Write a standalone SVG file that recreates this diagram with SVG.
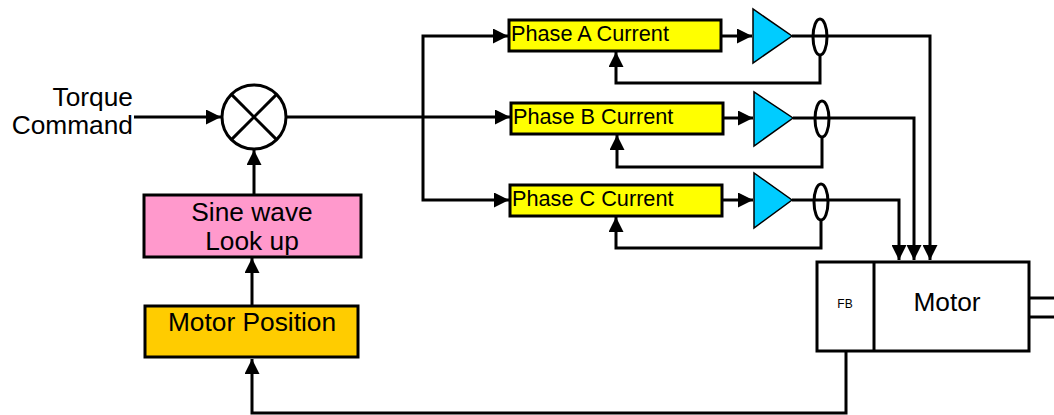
<svg xmlns="http://www.w3.org/2000/svg" width="1054" height="415" viewBox="0 0 1054 415">
<style>
.ln{fill:none;stroke:#000;stroke-width:3}
.bx{stroke:#000;stroke-width:3}
.t{font-family:"Liberation Sans",Arial,sans-serif;fill:#000}
.big{font-size:26.3px}
.ph{font-size:21.7px}
.amp{fill:#00CCFF;stroke:#000;stroke-width:1.5}
.ov{fill:none;stroke:#000;stroke-width:3}
</style>
<defs>
<marker id="arr" markerWidth="5" markerHeight="5" refX="5" refY="2.5" orient="auto" markerUnits="strokeWidth">
<path d="M0,0 L5,2.5 L0,5 Z" fill="#000"/>
</marker>
</defs>
<rect width="1054" height="415" fill="#fff"/>

<g id="connectors">
<line class="ln" x1="134" y1="117" x2="221" y2="117" marker-end="url(#arr)"/>
<line class="ln" x1="286" y1="117" x2="510" y2="117" marker-end="url(#arr)"/>
<polyline class="ln" points="423,117 423,36 508,36" marker-end="url(#arr)"/>
<polyline class="ln" points="423,117 423,200 509,200" marker-end="url(#arr)"/>
<line class="ln" x1="254" y1="195" x2="254" y2="150" marker-end="url(#arr)"/>
<line class="ln" x1="252" y1="306" x2="252" y2="258" marker-end="url(#arr)"/>
<polyline class="ln" points="846,351 846,413 252,413 252,359" marker-end="url(#arr)"/>
<line class="ln" x1="721" y1="36" x2="752" y2="36" marker-end="url(#arr)"/>
<line class="ln" x1="723" y1="118" x2="753" y2="118" marker-end="url(#arr)"/>
<line class="ln" x1="722" y1="200" x2="753" y2="200" marker-end="url(#arr)"/>
<polyline class="ln" points="792,36 930,36 930,260" marker-end="url(#arr)"/>
<polyline class="ln" points="793,118 914,118 914,260" marker-end="url(#arr)"/>
<polyline class="ln" points="792,200 899,200 899,260" marker-end="url(#arr)"/>
<polyline class="ln" points="820,55 820,83 616,83 616,52" marker-end="url(#arr)"/>
<polyline class="ln" points="822,137 822,167 617,167 617,135" marker-end="url(#arr)"/>
<polyline class="ln" points="821,220 821,248 616,248 616,217" marker-end="url(#arr)"/>
<polyline class="ln" points="1029,298 1054,298"/>
<polyline class="ln" points="1029,317 1054,317"/>
</g>

<g id="torque-command">
<text class="t big" x="133" y="106" text-anchor="end">Torque</text>
<text class="t big" x="133" y="134" text-anchor="end">Command</text>
</g>

<g id="junction">
<circle cx="254" cy="117" r="32" fill="#fff" stroke="#000" stroke-width="3"/>
<line class="ln" x1="231.4" y1="94.4" x2="276.6" y2="139.6"/>
<line class="ln" x1="276.6" y1="94.4" x2="231.4" y2="139.6"/>
</g>

<g id="sine-lookup">
<rect class="bx" x="144" y="195" width="217" height="62" fill="#FF99CC"/>
<text class="t big" x="252" y="221" text-anchor="middle">Sine wave</text>
<text class="t big" x="252" y="250" text-anchor="middle">Look up</text>
</g>

<g id="motor-position">
<rect class="bx" x="145" y="306" width="213" height="51" fill="#FFCC00"/>
<text class="t big" x="252" y="331" text-anchor="middle">Motor Position</text>
</g>

<g id="phase-a">
<rect class="bx" x="509" y="20" width="212" height="31" fill="#FFFF00"/>
<text class="t ph" x="511" y="41">Phase A Current</text>
</g>
<g id="phase-b">
<rect class="bx" x="511" y="103" width="212" height="31" fill="#FFFF00"/>
<text class="t ph" x="513" y="124">Phase B Current</text>
</g>
<g id="phase-c">
<rect class="bx" x="510" y="185" width="212" height="31" fill="#FFFF00"/>
<text class="t ph" x="512" y="206">Phase C Current</text>
</g>

<g id="amp-a"><polygon class="amp" points="753,9 753,63 792,36"/></g>
<g id="amp-b"><polygon class="amp" points="754,92 754,146 793,118"/></g>
<g id="amp-c"><polygon class="amp" points="754,173 754,228 792,200"/></g>

<g id="sensor-a"><ellipse class="ov" cx="820" cy="37" rx="7" ry="18"/></g>
<g id="sensor-b"><ellipse class="ov" cx="822" cy="119" rx="7" ry="18"/></g>
<g id="sensor-c"><ellipse class="ov" cx="821" cy="202" rx="7" ry="18"/></g>

<g id="motor">
<rect class="bx" x="817" y="262" width="212" height="89" fill="#fff"/>
<line class="ln" x1="874" y1="262" x2="874" y2="351" stroke-width="4"/>
<text class="t" x="845" y="308" font-size="12" text-anchor="middle">FB</text>
<text class="t big" x="947" y="311" text-anchor="middle">Motor</text>
</g>
</svg>
